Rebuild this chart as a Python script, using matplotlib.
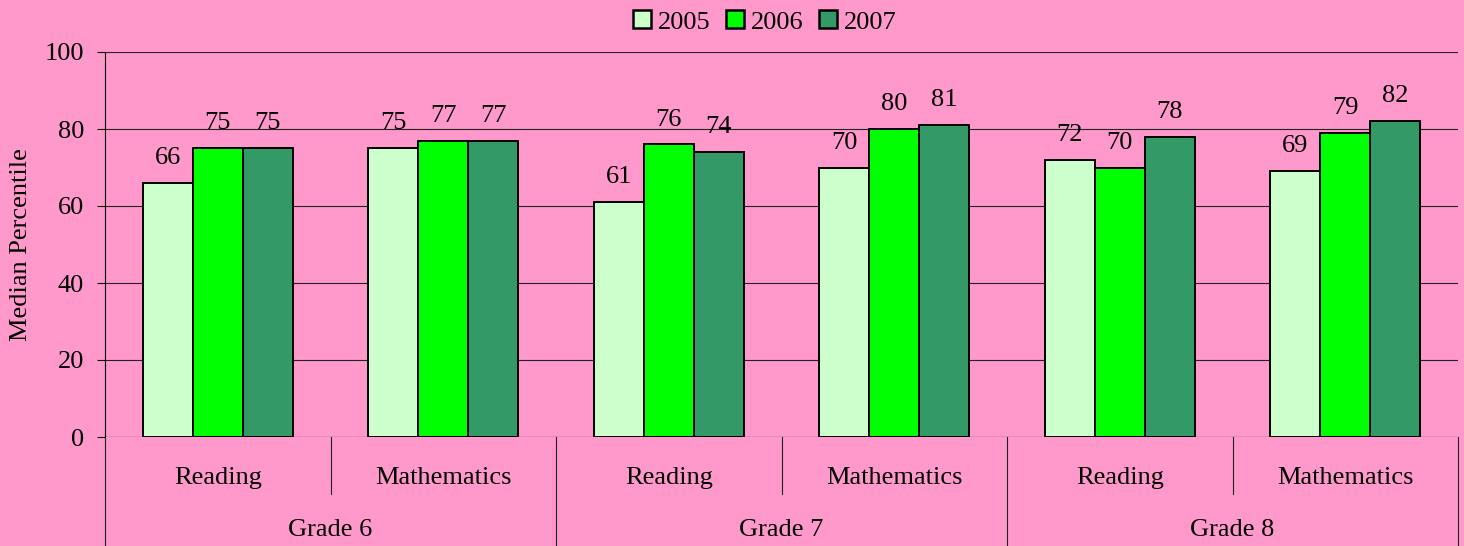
import numpy as np
import matplotlib
matplotlib.use("Agg")
import matplotlib.pyplot as plt
from matplotlib.patches import Patch

# data
grades = ["Grade 6", "Grade 7", "Grade 8"]
subjects = ["Reading", "Mathematics"]
years = ["2005", "2006", "2007"]
v2005 = [66, 75, 61, 70, 72, 69]
v2006 = [75, 77, 76, 80, 70, 79]
v2007 = [75, 77, 74, 81, 78, 82]
colors = ["#CCFFCC", "#00FF00", "#339966"]
pink = "#FF99CC"

plt.rcParams['font.family'] = ['Liberation Serif', 'DejaVu Serif']
fs = 19

fig = plt.figure(figsize=(14.64, 5.46), dpi=100, facecolor=pink)
ax = fig.add_axes([105/1464, 1-437/546, (1458-105)/1464, 385/546])
ax.set_facecolor(pink)

x = np.arange(len(v2005))
w = 0.222
series = [v2005, v2006, v2007]
for i, vals in enumerate(series):
    bars = ax.bar(x + (i-1)*w, vals, w, color=colors[i], edgecolor="black",
                  linewidth=1.4, zorder=3, label=years[i])
    ax.bar_label(bars, fontsize=fs, padding=10)

ax.set_xlim(-0.5, 5.5)
ax.set_ylim(0, 100)
ax.set_yticks([0, 20, 40, 60, 80, 100])
ax.tick_params(axis="y", labelsize=fs, length=6, width=0.8, pad=9)
ax.yaxis.grid(True, color="#222222", linewidth=0.8, zorder=0)
ax.set_xticks([])
for s in ["top", "right", "bottom"]:
    ax.spines[s].set_visible(False)
ax.spines["left"].set_linewidth(0.8)
ax.spines["left"].set_bounds(0, 100)
ax.axhline(0, color="#222222", linewidth=0.8, zorder=4)
ax.set_ylabel("Median Percentile", fontsize=fs, labelpad=9)

# two-level category axis
trans = ax.get_xaxis_transform()
ax.plot([-0.5, -0.5], [0, -0.283], color="#222222", lw=0.8, transform=trans, clip_on=False)
ax.plot([5.5, 5.5], [0, -0.283], color="#222222", lw=0.8, transform=trans, clip_on=False)
for g in range(len(grades)):
    ax.plot([2*g+0.5, 2*g+0.5], [0, -0.148], color="#222222", lw=0.8, transform=trans, clip_on=False)
    if g > 0:
        ax.plot([2*g-0.5, 2*g-0.5], [0, -0.283], color="#222222", lw=0.8, transform=trans, clip_on=False)
    ax.text(2*g+0.5, -0.242, grades[g], transform=trans, ha="center", va="center", fontsize=fs)
    for k, sub in enumerate(subjects):
        ax.text(2*g+k, -0.106, sub, transform=trans, ha="center", va="center", fontsize=fs)

handles = [Patch(facecolor=colors[i], edgecolor="black", linewidth=1.8) for i in range(3)]
fig.legend(handles, years, loc="center", bbox_to_anchor=(765/1464, 1-22/546), ncol=3,
           frameon=False, fontsize=fs, handlelength=0.68, handleheight=0.68,
           handletextpad=0.25, columnspacing=0.6)

fig.savefig("out.png", dpi=100, facecolor=pink)
